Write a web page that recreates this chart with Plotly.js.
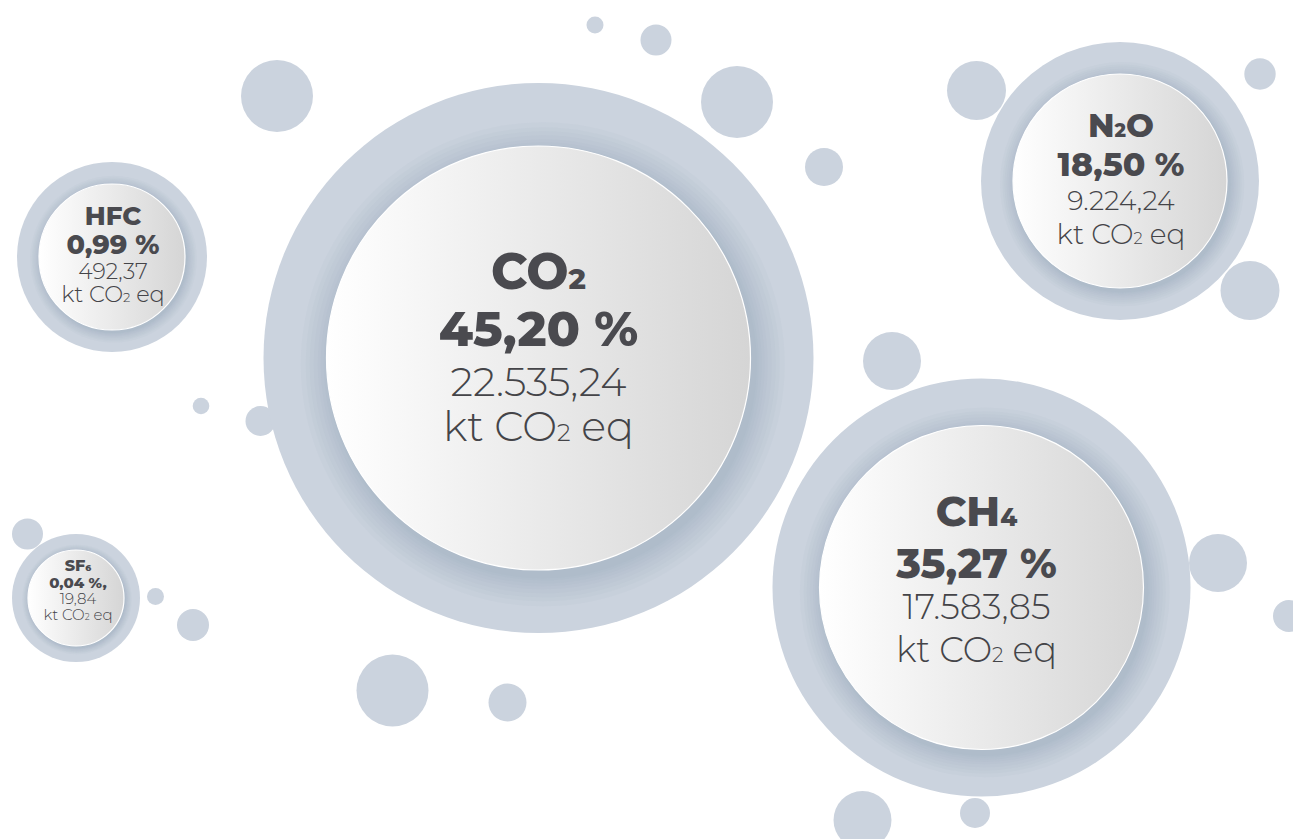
<!DOCTYPE html>
<html>
<head>
<meta charset="utf-8">
<script src="https://cdn.plot.ly/plotly-3.0.1.min.js"></script>
<style>
  html, body { margin: 0; padding: 0; background: #ffffff; }
  #chart { width: 1293px; height: 839px; }
</style>
</head>
<body>
<div id="chart"></div>
<script>
// ---------- data ----------
const gases = ['CO2', 'CH4', 'N2O', 'HFC', 'SF6'];
const shares = [45.20, 35.27, 18.50, 0.99, 0.04];               // % of total
const emissions = [22535.24, 17583.85, 9224.24, 492.37, 19.84]; // kt CO2 eq
const shareSuffix = [' %', ' %', ' %', ' %', ' %,'];
const unitLabel = 'kt CO2 eq';

// ---------- layout / style (positions & sizes, in pixels) ----------
const cx = [538.5, 981.5, 1120, 112, 76];
const cy = [358, 587.5, 181, 257, 598];
const rOuter = [275, 209, 139, 95, 64];
const rInner = [212, 162, 107, 73, 48];
const textDx = [0, -5, 1, 1, 2];
// vertical offsets of the 4 text lines relative to bubble centre
const lineDy = [
  [-82, -24, 28, 73],
  [-72, -20, 23, 66],
  [-52, -13, 22, 56],
  [-39, -10, 16, 39],
  [-31, -14, 2, 18]
];
// font sizes: label, share, value, unit
const fontSz = [
  [50, 49, 40, 41.5],
  [42, 41, 35, 35],
  [33, 33, 27, 28],
  [26, 27, 22, 22.5],
  [16, 15, 15, 15]
];
// decorative dots
const dotX = [277, 595, 656, 737, 824, 976.5, 1260, 1250, 892, 201, 260.5, 27.5, 155.5, 193, 392.5, 507.5, 1218, 1289, 862.5, 975];
const dotY = [96, 25, 40, 102, 167, 90.5, 74, 290.5, 361, 406, 421, 534, 596.5, 625, 690.5, 702.5, 563, 616, 820, 813];
const dotR = [36, 8.5, 15.5, 36, 19, 29.5, 15.7, 29.5, 29, 8.3, 15, 15.5, 8.5, 16, 36, 19, 29, 16, 29, 15];

const ringColor = '#cbd3de';
const boldColor = '#4a4a4f';
const lightColor = '#444448';
const FONT = 'Montserrat, Inter, "Open Sans", sans-serif';

// ---------- helpers ----------
function sub(s) { return s.replace(/(\d)/g, '<span style="font-size:58%">$1</span>'); }
function fmt(v) {
  const parts = v.toFixed(2).split('.');
  parts[0] = parts[0].replace(/\B(?=(\d{3})+(?!\d))/g, '.');
  return parts.join(',');
}

const traces = [];
// decorative dots
traces.push({
  type: 'scatter', mode: 'markers', x: dotX, y: dotY, hoverinfo: 'skip',
  marker: { size: dotR.map(r => 2 * r), color: ringColor, opacity: 1, line: { width: 0 } }
});
// outer rings
traces.push({
  type: 'scatter', mode: 'markers', x: cx, y: cy, hoverinfo: 'skip',
  marker: { size: rOuter.map(r => 2 * r), color: ringColor, opacity: 1, line: { width: 0 } }
});
// soft shadow layers (blurred drop shadow, offset to lower right)
const shadowSteps = [30, 25, 21, 17, 13, 10, 7, 4, 2];
shadowSteps.forEach(k => {
  traces.push({
    type: 'scatter', mode: 'markers',
    x: cx.map((v, i) => v + rInner[i] * 0.02),
    y: cy.map((v, i) => v + rInner[i] * 0.03),
    hoverinfo: 'skip',
    marker: { size: rInner.map(r => 2 * r + k * r / 106), color: 'rgba(135,150,175,0.05)', opacity: 1, line: { width: 0 } }
  });
});
// inner gradient discs (left = marker colour, right = gradient colour)
traces.push({
  type: 'scatter', mode: 'markers', x: cx, y: cy, hoverinfo: 'skip',
  marker: {
    size: rInner.map(r => 2 * r), color: '#ffffff', opacity: 1,
    gradient: { type: 'horizontal', color: '#d5d5d5' },
    line: { width: 1.2, color: '#ffffff' }
  }
});
// text lines
const lines = [
  { text: gases.map(sub), bold: true, idx: 0 },
  { text: shares.map((v, i) => v.toFixed(2).replace('.', ',') + shareSuffix[i]), bold: true, idx: 1 },
  { text: emissions.map(fmt), bold: false, idx: 2 },
  { text: gases.map(() => sub(unitLabel)), bold: false, idx: 3 }
];
lines.forEach(L => {
  traces.push({
    type: 'scatter', mode: 'text', hoverinfo: 'skip',
    x: cx.map((v, i) => v + textDx[i]),
    y: cy.map((v, i) => v + lineDy[i][L.idx]),
    text: L.text,
    textposition: 'middle center',
    cliponaxis: false,
    textfont: {
      family: FONT,
      size: fontSz.map(f => f[L.idx]),
      color: L.bold ? boldColor : lightColor,
      weight: L.bold ? 800 : 300
    }
  });
});

const layout = {
  width: 1293, height: 839, autosize: false,
  margin: { l: 0, r: 0, t: 0, b: 0, pad: 0 },
  paper_bgcolor: '#ffffff', plot_bgcolor: '#ffffff',
  showlegend: false,
  xaxis: { range: [0, 1293], visible: false, fixedrange: true },
  yaxis: { range: [839, 0], visible: false, fixedrange: true }
};

Plotly.newPlot('chart', traces, layout, { staticPlot: true, displayModeBar: false });
</script>
</body>
</html>
